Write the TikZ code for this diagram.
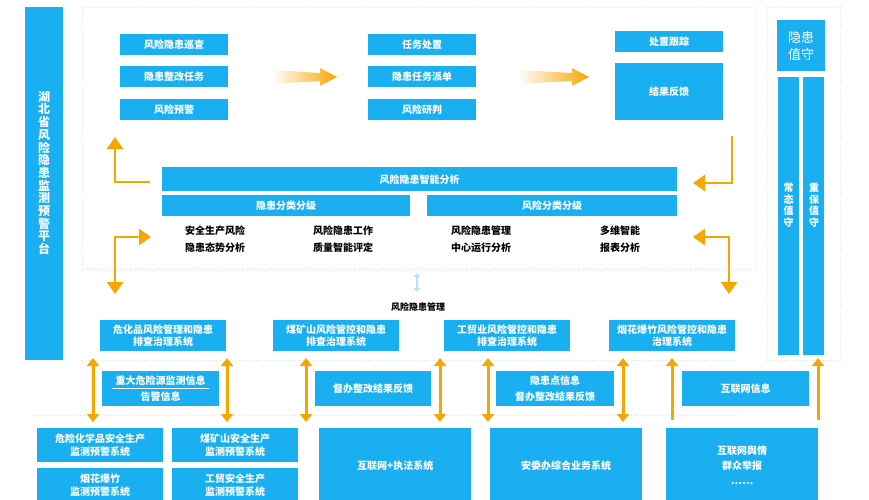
\documentclass[tikz,border=0pt]{standalone}
\usepackage{fontspec}
\setmainfont{Noto Sans CJK SC}
\usetikzlibrary{arrows.meta}
\definecolor{bl}{HTML}{1AAFF0}
\definecolor{og}{HTML}{F7A600}
\definecolor{dl}{HTML}{DDE3EA}
\begin{document}
\begin{tikzpicture}[x=1pt,y=-1pt,
  box/.style={fill=bl,draw=none,text=white,anchor=north west,inner sep=0pt,align=center,font=\fontsize{10}{12.5}\selectfont\bfseries},
  lab/.style={font=\fontsize{10}{16.5}\selectfont\bfseries,align=left,anchor=north west,inner sep=0pt},
  oa/.style={draw=og,line width=2.8pt,-{Triangle[width=16pt,length=12pt]}},
  oda/.style={draw=og,line width=3pt,{Triangle[width=12pt,length=8pt]}-{Triangle[width=12pt,length=8pt]}},
  dots/.style={draw=dl,dotted,line width=0.8pt}]
\useasboundingbox (0,0) rectangle (869,500);
% dotted frames
\draw[dots] (82,7) -- (755,7) -- (755,268) -- (82,268) -- cycle;
\draw[dots] (82,270) -- (755,270);
\draw[dots] (82,360) -- (740,360);
\draw[dots] (35,415) -- (740,415);
\draw[dots] (767,7) -- (840,7) -- (840,360) -- (767,360) -- cycle;
% left title bar
\node[box,minimum width=38pt,minimum height=353pt] (plat) at (25,7) {};
\node[text=white,font=\fontsize{12}{12.7}\selectfont\bfseries,text width=12pt,align=center,inner sep=0pt] (platt) at (44,173) {湖\\北\\省\\风\\险\\隐\\患\\监\\测\\预\\警\\平\\台};
% top boxes
\node[box,minimum width=108pt,minimum height=21pt] (a1) at (120,34) {风险隐患巡查};
\node[box,minimum width=108pt,minimum height=21pt] (a2) at (120,66) {隐患整改任务};
\node[box,minimum width=108pt,minimum height=21pt] (a3) at (120,99) {风险预警};
\node[box,minimum width=108pt,minimum height=21pt] (b1) at (368,34) {任务处置};
\node[box,minimum width=108pt,minimum height=21pt] (b2) at (368,66) {隐患任务派单};
\node[box,minimum width=108pt,minimum height=21pt] (b3) at (368,99) {风险研判};
\node[box,minimum width=108pt,minimum height=21pt] (c1) at (615,31) {处置跟踪};
\node[box,minimum width=108pt,minimum height=57pt] (c2) at (615,63) {结果反馈};
% gradient arrows
\shade[left color=white,right color=og,shading angle=90] (272,70) -- (320,73) -- (320,68) -- (337,77) -- (320,86) -- (320,81) -- (272,84) -- cycle;
\shade[left color=white,right color=og,shading angle=90] (518,70) -- (572,73) -- (572,68) -- (589,77) -- (572,86) -- (572,81) -- (518,84) -- cycle;
% right panel
\node[box,minimum width=48pt,minimum height=51pt,font=\fontsize{13}{17}\selectfont] (yh) at (777,20) {隐患\\值守};
\node[box,minimum width=21pt,minimum height=278pt] (cz) at (778,77) {};
\node[box,minimum width=21pt,minimum height=278pt] (zb) at (803,77) {};
\node[text=white,font=\fontsize{10}{11.5}\selectfont\bfseries,text width=10pt,align=center,inner sep=0pt] at (788.5,205) {常\\态\\值\\守};
\node[text=white,font=\fontsize{10}{11.5}\selectfont\bfseries,text width=10pt,align=center,inner sep=0pt] at (814,205) {重\\保\\值\\守};
% analysis
\node[box,minimum width=515pt,minimum height=24pt] (an) at (162,167) {风险隐患智能分析};
\node[box,minimum width=248pt,minimum height=21pt] (h1) at (162,195) {隐患分类分级};
\node[box,minimum width=250pt,minimum height=21pt] (h2) at (427,195) {风险分类分级};
\node[lab] (t1) at (185,226) {安全生产风险\\隐患态势分析};
\node[lab] (t2) at (313,226) {风险隐患工作\\质量智能评定};
\node[lab] (t3) at (451,226) {风险隐患管理\\中心运行分析};
\node[lab] (t4) at (600,226) {多维智能\\报表分析};
% orange arrows top
\draw[oa] (150,182) -- (115,182) -- (115,137);
\draw[oa] (732,136) -- (732,183) -- (693,183);
\draw[oa] (115,237) -- (151,237);
\draw[oa] (115,236) -- (115,294);
\draw[oa] (730,237) -- (693,237);
\draw[oa] (729,236) -- (729,294);
\draw[draw={rgb,255:red,190;green,225;blue,250},line width=2pt,{Triangle[width=7pt,length=4pt]}-{Triangle[width=7pt,length=4pt]}] (417,273) -- (417,292);
\node[font=\fontsize{9}{10}\selectfont\bfseries,inner sep=0pt] (mg) at (418,307) {风险隐患管理};
% system boxes
\node[box,minimum width=126pt,minimum height=31pt] (s1) at (100,320) {危化品风险管理和隐患\\排查治理系统};
\node[box,minimum width=126pt,minimum height=31pt] (s2) at (273,320) {煤矿山风险管控和隐患\\排查治理系统};
\node[box,minimum width=126pt,minimum height=31pt] (s3) at (444,320) {工贸业风险管控和隐患\\排查治理系统};
\node[box,minimum width=126pt,minimum height=31pt] (s4) at (609,320) {烟花爆竹风险管控和隐患\\治理系统};
% info boxes
\node[box,minimum width=117pt,minimum height=35pt,font=\fontsize{10}{16}\selectfont\bfseries] (i1) at (102,371) {重大危险源监测信息\\告警信息};
\draw[white,line width=0.6pt] (112,388.5) -- (209,388.5);
\node[box,minimum width=116pt,minimum height=35pt] (i2) at (315,371) {督办整改结果反馈};
\node[box,minimum width=118pt,minimum height=35pt,font=\fontsize{10}{16}\selectfont\bfseries] (i3) at (496,371) {隐患点信息\\督办整改结果反馈};
\node[box,minimum width=127pt,minimum height=35pt] (i4) at (682,371) {互联网信息};
% bottom boxes
\node[box,minimum width=126pt,minimum height=34pt] (d1) at (37,428) {危险化学品安全生产\\监测预警系统};
\node[box,minimum width=126pt,minimum height=34pt] (d2) at (172,428) {煤矿山安全生产\\监测预警系统};
\node[box,minimum width=126pt,minimum height=34pt] (d3) at (37,468) {烟花爆竹\\监测预警系统};
\node[box,minimum width=126pt,minimum height=34pt] (d4) at (172,468) {工贸安全生产\\监测预警系统};
\node[box,minimum width=152pt,minimum height=74pt] (d5) at (319,428) {互联网+执法系统};
\node[box,minimum width=152pt,minimum height=74pt] (d6) at (490,428) {安委办综合业务系统};
\node[box,minimum width=152pt,minimum height=74pt,font=\fontsize{10}{15}\selectfont\bfseries] (d7) at (666,428) {互联网舆情\\群众举报\\……};
% vertical orange arrows
\draw[oda] (93,358) -- (93,422);
\draw[oda] (227,358) -- (227,422);
\draw[oda] (306,358) -- (306,422);
\draw[oda] (440,358) -- (440,422);
\draw[oda] (488,358) -- (488,422);
\draw[oda] (623,358) -- (623,422);
\draw[draw=og,line width=3pt,-{Triangle[width=12pt,length=8pt]}] (672,420) -- (672,358);
\draw[draw=og,line width=3pt,-{Triangle[width=12pt,length=8pt]}] (818,420) -- (818,358);
\end{tikzpicture}
\end{document}
